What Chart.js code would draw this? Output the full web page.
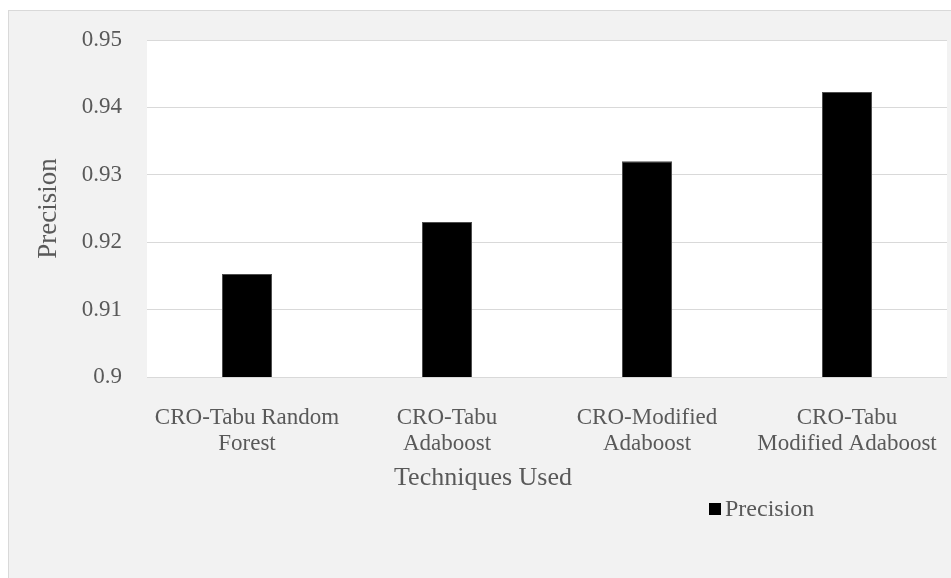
<!DOCTYPE html>
<html>
<head>
<meta charset="utf-8">
<script src="https://cdn.jsdelivr.net/npm/chart.js@4.4.1/dist/chart.umd.min.js"></script>
<style>
  body { margin: 0; background: #fff; }
  #box {
    position: absolute; left: 8px; top: 10px;
    width: 960px; height: 580px;
    background: #f2f2f2; border: 1px solid #d9d9d9;
  }
  #wrap { position: absolute; left: 0; top: 0; width: 942px; height: 570px; }
</style>
</head>
<body>
<div id="box">
  <div id="wrap"><canvas id="precisionChart"></canvas></div>
</div>
<script>
const techniques = [
  ['CRO-Tabu Random', 'Forest'],
  ['CRO-Tabu', 'Adaboost'],
  ['CRO-Modified', 'Adaboost'],
  ['CRO-Tabu', 'Modified Adaboost']
];
const precision = [0.9153, 0.9230, 0.9320, 0.9423];
const yTicks = [0.9, 0.91, 0.92, 0.93, 0.94, 0.95];

const serif = '"Liberation Serif", "Times New Roman", serif';
const grey = '#595959';
const clear = 'rgba(0,0,0,0)';

// white plot area, x axis title and legend drawn by hand (Excel places them off-centre)
const extras = {
  id: 'extras',
  beforeDraw(chart) {
    const { ctx, chartArea: a } = chart;
    ctx.save();
    ctx.fillStyle = '#ffffff';
    ctx.fillRect(a.left, a.top, a.right - a.left, a.bottom - a.top);
    ctx.restore();
  },
  afterDraw(chart) {
    const { ctx, chartArea: a } = chart;
    ctx.save();
    ctx.fillStyle = grey;
    ctx.textAlign = 'center';
    ctx.textBaseline = 'middle';
    ctx.font = '26px ' + serif;
    ctx.fillText('Techniques Used', chart.width / 2 + 3, a.bottom + 101);

    const ds = chart.data.datasets[0];
    ctx.fillStyle = ds.backgroundColor;
    ctx.fillRect(700, a.bottom + 126, 12, 12);
    ctx.fillStyle = grey;
    ctx.textAlign = 'left';
    ctx.font = '24px ' + serif;
    ctx.fillText(ds.label, 716, a.bottom + 133);
    ctx.restore();
  }
};

const ctx = document.getElementById('precisionChart').getContext('2d');
new Chart(ctx, {
  type: 'bar',
  data: {
    labels: techniques,
    datasets: [{
      label: 'Precision',
      data: precision,
      backgroundColor: '#000000',
      borderColor: '#4d4d4d',
      borderWidth: 1,
      barPercentage: 0.25,
      categoryPercentage: 1
    }]
  },
  options: {
    responsive: true,
    maintainAspectRatio: false,
    animation: false,
    layout: { autoPadding: false, padding: { top: 29, right: 4, left: 0, bottom: 114 } },
    plugins: {
      legend: { display: false },
      tooltip: { enabled: false }
    },
    scales: {
      x: {
        afterFit(scale) { scale.height = 90; },
        // invisible grid, only used so the tick length spaces the labels
        grid: { color: clear, tickColor: clear, drawTicks: true, tickLength: 27 },
        border: { display: false },
        ticks: {
          color: grey,
          font: { family: serif, size: 23, lineHeight: 1.17 },
          maxRotation: 0,
          autoSkip: false,
          padding: 0
        }
      },
      y: {
        min: 0.9,
        max: 0.95,
        afterFit(scale) { scale.width = 138; },
        afterBuildTicks(scale) { scale.ticks = yTicks.map(v => ({ value: v })); },
        grid: { color: '#d9d9d9', lineWidth: 1, drawTicks: true, tickLength: 25, tickColor: clear },
        border: { display: false },
        ticks: {
          color: grey,
          font: { family: serif, size: 23 },
          padding: 0,
          callback: v => String(+v.toFixed(2))
        },
        title: {
          display: true,
          text: 'Precision',
          color: grey,
          font: { family: serif, size: 27 },
          padding: { top: 24, bottom: 0 }
        }
      }
    }
  },
  plugins: [extras]
});
</script>
</body>
</html>
